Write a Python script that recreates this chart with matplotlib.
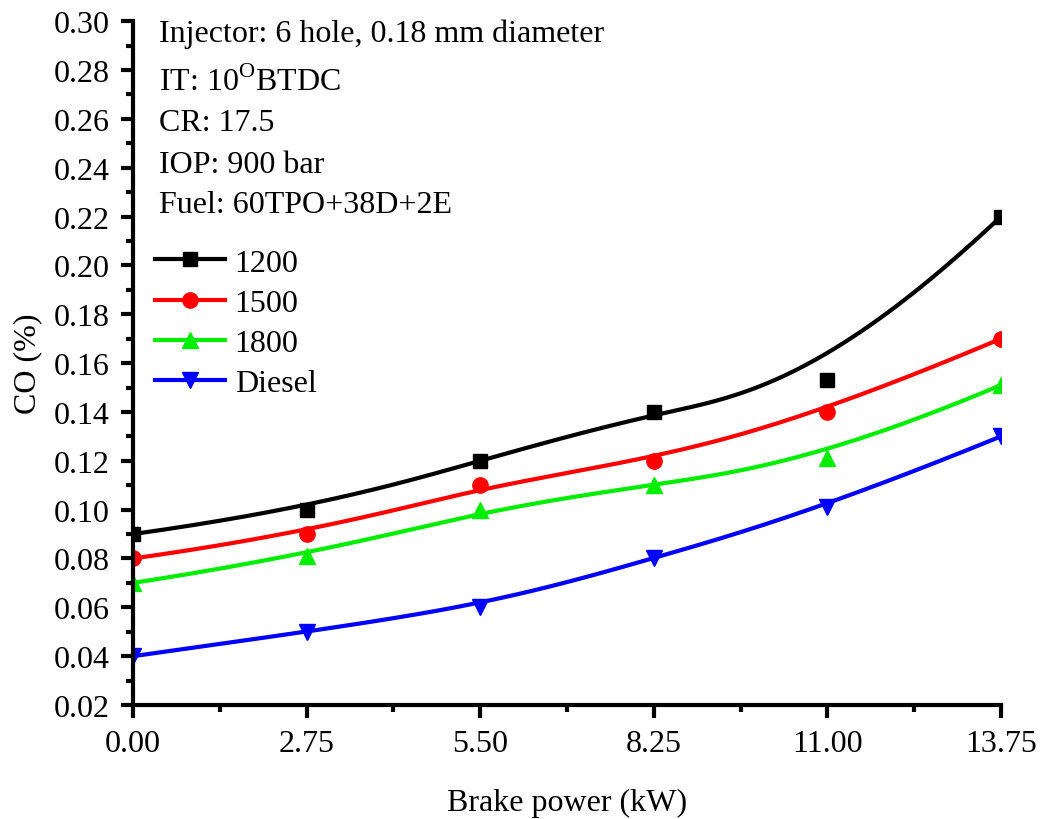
import numpy as np
import matplotlib.pyplot as plt
from matplotlib.ticker import MultipleLocator

plt.rcParams['font.family'] = ['Liberation Serif', 'DejaVu Serif']
plt.rcParams['mathtext.fontset'] = 'custom'
plt.rcParams['mathtext.rm'] = 'Liberation Serif'

power = [0.00, 2.75, 5.50, 8.25, 11.00, 13.75]
co_1200 = [0.090, 0.100, 0.120, 0.140, 0.153, 0.220]
co_1500 = [0.080, 0.090, 0.110, 0.120, 0.140, 0.170]
co_1800 = [0.070, 0.081, 0.100, 0.110, 0.121, 0.151]
co_diesel = [0.040, 0.050, 0.060, 0.080, 0.101, 0.130]

labels = ['1200', '1500', '1800', 'Diesel']
colors = ['black', 'red', '#00ee00', 'blue']
markers = ['s', 'o', '^', 'v']
msizes = [10, 11, 11, 11]
series = [co_1200, co_1500, co_1800, co_diesel]

info = ['Injector: 6 hole, 0.18 mm diameter',
        r'IT: 10$^{\mathrm{O}}$BTDC',
        'CR: 17.5',
        'IOP: 900 bar',
        'Fuel: 60TPO+38D+2E']
info_y = [0.971, 0.8996, 0.8406, 0.7792, 0.7208]


def bspline(px, py, n=300, k=3):
    # clamped B-spline using the data points as control points
    px = np.asarray(px, float)
    py = np.asarray(py, float)
    m = len(px)
    inner = np.arange(1, m - k)
    t = np.concatenate([np.zeros(k + 1), inner, np.full(k + 1, m - k)]).astype(float)
    u = np.linspace(0, m - k, n)
    u[-1] -= 1e-9
    B = np.zeros((n, len(t) - 1))
    for i in range(len(t) - 1):
        B[:, i] = (u >= t[i]) & (u < t[i + 1])
    for d in range(1, k + 1):
        Bn = np.zeros((n, len(t) - 1 - d))
        for i in range(len(t) - 1 - d):
            a = 0.0
            if t[i + d] != t[i]:
                a = (u - t[i]) / (t[i + d] - t[i]) * B[:, i]
            b = 0.0
            if t[i + d + 1] != t[i + 1]:
                b = (t[i + d + 1] - u) / (t[i + d + 1] - t[i + 1]) * B[:, i + 1]
            Bn[:, i] = a + b
        B = Bn
    return B @ px, B @ py


fig = plt.figure(figsize=(10.4, 8.2), dpi=100)
ax = fig.add_axes([0.128, 0.139, 0.8345, 0.834])

for y, lab, c, mk, ms in zip(series, labels, colors, markers, msizes):
    sx, sy = bspline(power, y)
    ax.plot(sx, sy, color=c, lw=3)
    ax.plot(power, y, ls='none', marker=mk, color=c, ms=ms)
    ax.plot([], [], color=c, lw=3, marker=mk, ms=ms, label=lab)

ax.set_xlim(0, 13.75)
ax.set_ylim(0.02, 0.30)
ax.set_xticks(power)
ax.set_xticklabels(['%.2f' % v for v in power])
ax.xaxis.set_minor_locator(MultipleLocator(1.375))
ax.yaxis.set_major_locator(MultipleLocator(0.02))
ax.yaxis.set_minor_locator(MultipleLocator(0.01))
ax.yaxis.set_major_formatter(plt.FormatStrFormatter('%.2f'))

for s in ['top', 'right']:
    ax.spines[s].set_visible(False)
for s in ['left', 'bottom']:
    ax.spines[s].set_linewidth(3)
ax.tick_params(which='major', length=9, width=3, labelsize=23, pad=8)
ax.tick_params(which='minor', length=5, width=3)

ax.set_xlabel('Brake power (kW)', fontsize=23, labelpad=22)
ax.set_ylabel('CO (%)', fontsize=23, labelpad=8)

for s, yy in zip(info, info_y):
    ax.text(0.03, yy, s, transform=ax.transAxes, fontsize=23,
            va='baseline', ha='left')

ax.legend(loc='upper left', bbox_to_anchor=(0.025, 0.668), frameon=False,
          fontsize=23, handlelength=2.2, handletextpad=0.3, labelspacing=0.34,
          borderaxespad=0, borderpad=0)

fig.savefig('out.png', dpi=100)
